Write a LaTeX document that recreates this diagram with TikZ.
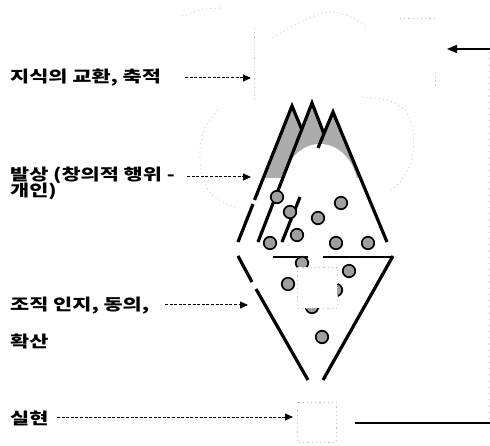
\documentclass[tikz,border=0pt]{standalone}
\usepackage{fontspec}
\newfontfamily\kr{Noto Sans CJK KR}
\usetikzlibrary{arrows.meta}
\newcommand\widekr[1]{\scalebox{1.3}[1]{#1}}
\begin{document}
\begin{tikzpicture}[x=1pt,y=-1pt,
  lbl/.style={anchor=west, inner sep=0pt, align=left,
    font=\kr\bfseries\fontsize{16}{14}\selectfont},
  feed/.style={line width=1pt, dash pattern=on 3pt off 1.6pt,
    -{Triangle[length=8pt,width=7pt]}},
  edge/.style={line width=3.2pt},
  ball/.style={circle, draw=black, line width=1.7pt, fill=gray!75,
    minimum size=12.5pt, inner sep=0pt},
  faint/.style={gray!50, line width=0.6pt, dash pattern=on 1.2pt off 3pt},
  fainter/.style={gray!35, line width=0.6pt, dash pattern=on 1.2pt off 5pt},
]
\useasboundingbox (0,0) rectangle (490,446);

% faint cloud outline around the peaks
\draw[faint] plot[smooth] coordinates {(235,208) (212,195) (202,175) (200,150) (205,128) (218,110)};
\draw[faint] plot[smooth] coordinates {(182,16) (200,10) (220,8)};
\draw[faint] (254,28) -- (254,100);
\draw[faint] plot[smooth] coordinates {(273,38) (300,22) (330,12) (353,18) (367,27)};
\draw[faint] (400,18) -- (437,18);
\draw[faint] (435,72) -- (435,88);
\draw[faint] plot[smooth] coordinates {(362,97) (387,100) (405,110) (413,132) (412,160) (400,182) (390,190)};
% feedback loop, right side
\draw[fainter] (489,52) -- (489,420);

% shaded mountain tops
\begin{scope}
  \clip (200,95) rectangle (400,178);
  \fill[gray!65] (238,242) -- (292,106) -- (302,130) -- (312,103) -- (324,134)
    -- (333,112) -- (387,242) -- cycle;
\end{scope}
\fill[white] (320,190) ellipse [x radius=38, y radius=46];

% mountain outlines
\draw[edge] (254.5,200) -- (292,106) -- (302,130);
\draw[edge] (253,204) -- (238,242);
\draw[edge] (258,242) -- (312,103) -- (324,134);
\draw[edge] (318,148) -- (333,112) -- (387,242);
\draw[edge] (300,197) -- (282,242);

% funnel
\draw[edge] (238,256) -- (252,282);
\draw[edge] (256,289) -- (308,380);
\draw[edge] (393,256) -- (323,380);
\draw[line width=1.3pt] (273,257) -- (308,257);
\draw[line width=1.3pt] (323,257) -- (393,257);

% ideas (upper part)
\node[ball] (u1) at (277,197) {};
\node[ball] (u2) at (290,212) {};
\node[ball] (u3) at (318,218) {};
\node[ball] (u4) at (341,203) {};
\node[ball] (u5) at (297,235) {};
\node[ball] (u6) at (270,243) {};
\node[ball] (u7) at (336,243) {};
\node[ball] (u8) at (368,243) {};

% ideas (funnel)
\node[ball] (f1) at (302,263) {};
\node[ball] (f2) at (349,271) {};
\node[ball] (f3) at (288,284) {};
\node[ball] (f4) at (336,290) {};
\node[ball] (f5) at (312,307) {};
\node[ball] (f6) at (322,337) {};
\fill[white] (297,267) rectangle (337,308);
\draw[faint] (297,267) rectangle (337,308);

% realisation box
\draw[faint] (297,402) rectangle (336,442);

% labels
\node[lbl] (k1) at (10,78) {\widekr{지식의 교환, 축적}};
\node[lbl] (k2) at (10,184) {\widekr{\begin{tabular}{@{}l@{}}발상 (창의적 행위 -\\[-2pt]개인)\end{tabular}}};
\node[lbl] (k3) at (10,306) {\widekr{조직 인지, 동의,}};
\node[lbl] (k4) at (10,341) {\widekr{확산}};
\node[lbl] (k5) at (10,418) {\widekr{실현}};

% label arrows
\coordinate (a1s) at (185,78);  \coordinate (a1e) at (251,78);
\coordinate (a2s) at (187,177); \coordinate (a2e) at (251,177);
\coordinate (a3s) at (165,305); \coordinate (a3e) at (248,305);
\coordinate (a4s) at (57,417);  \coordinate (a4e) at (293,417);
\draw[feed] (a1s) -- (a1e);
\draw[feed] (a2s) -- (a2e);
\draw[feed] (a3s) -- (a3e);
\draw[feed] (a4s) -- (a4e);

% feedback path
\coordinate (fbR) at (490,49); \coordinate (fbT) at (447,49);
\draw[line width=1.5pt, -{Triangle[length=10pt,width=8pt]}] (fbR) -- (fbT);
\coordinate (ba) at (355,423); \coordinate (bb) at (490,423);
\draw[line width=1.8pt] (ba) -- (bb);
\end{tikzpicture}
\end{document}
